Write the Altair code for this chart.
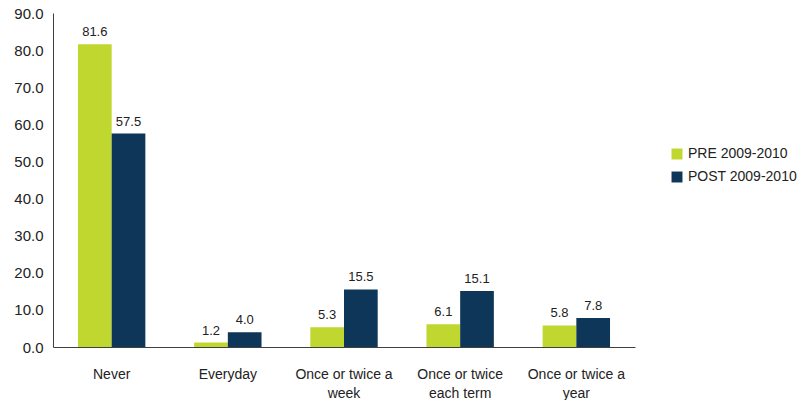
import altair as alt
import pandas as pd

categories = ["Never", "Everyday", "Once or twice a week", "Once or twice each term", "Once or twice a year"]
series = ["PRE 2009-2010", "POST 2009-2010"]
pre_values = [81.6, 1.2, 5.3, 6.1, 5.8]
post_values = [57.5, 4.0, 15.5, 15.1, 7.8]
colors = ["#C0D730", "#0E3658"]

rows = []
for c, v in zip(categories, pre_values):
    rows.append({"cat": c, "series": series[0], "value": v})
for c, v in zip(categories, post_values):
    rows.append({"cat": c, "series": series[1], "value": v})
df = pd.DataFrame(rows)

label_expr = (
    "datum.label == 'Once or twice a week' ? ['Once or twice a', 'week'] : "
    "datum.label == 'Once or twice each term' ? ['Once or twice', 'each term'] : "
    "datum.label == 'Once or twice a year' ? ['Once or twice a', 'year'] : datum.label"
)

x = alt.X("cat:N", sort=categories, title=None,
          scale=alt.Scale(paddingInner=0.42, paddingOuter=0.215),
          axis=alt.Axis(labelAngle=0, labelExpr=label_expr, ticks=False,
                        domainColor="#404040", labelFontSize=14, labelColor="#222222",
                        labelFont="Liberation Sans", labelPadding=27, labelLineHeight=19,
                        labelBaseline="middle"))
xo = alt.XOffset("series:N", sort=series, scale=alt.Scale(paddingInner=0, paddingOuter=0))
y = alt.Y("value:Q", title=None,
          scale=alt.Scale(domain=[0, 90], nice=False),
          axis=alt.Axis(values=list(range(0, 91, 10)), format=".1f", grid=False, ticks=False,
                        domainColor="#404040", labelFontSize=15, labelColor="#222222",
                        labelFont="Liberation Sans", labelPadding=10))

bars = alt.Chart(df).mark_bar().encode(
    x=x, xOffset=xo, y=y,
    color=alt.Color("series:N", sort=series,
                    scale=alt.Scale(domain=series, range=colors),
                    legend=alt.Legend(title=None, symbolType="square", symbolSize=120,
                                      symbolStrokeWidth=0, labelFontSize=14,
                                      labelFont="Liberation Sans", labelColor="#222222",
                                      orient="none", legendX=617, legendY=134,
                                      rowPadding=9)),
)
text = alt.Chart(df).mark_text(dy=-12, fontSize=13, font="Liberation Sans", color="#222222").encode(
    x=x, xOffset=xo, y=y, text=alt.Text("value:Q", format=".1f"), detail="series:N"
)

chart = (bars + text).properties(
    width=582, height=334,
    padding={"left": 13, "top": 6, "right": 0, "bottom": 0},
    background="white",
    autosize=alt.AutoSizeParams(type="pad"),
).configure_view(strokeWidth=0, stroke="transparent")
chart.save("out.html", embed_options={"renderer": "svg", "actions": False})
